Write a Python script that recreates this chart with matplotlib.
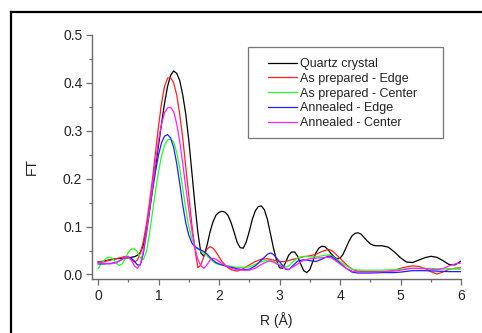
import matplotlib
matplotlib.use("Agg")
import matplotlib.pyplot as plt
from matplotlib.lines import Line2D
from matplotlib.patches import Rectangle

plt.rcParams['font.family'] = ['Liberation Sans', 'DejaVu Sans']

# (R, FT) pairs
quartz = [(0.0, .026), (0.1, .028), (0.2, .031), (0.3, .033), (0.4, .034), (0.5, .035),
          (0.6, .037), (0.65, .040), (0.7, .046), (0.75, .062), (0.8, .095), (0.85, .135),
          (0.9, .18), (0.95, .225), (1.0, .27), (1.05, .315), (1.1, .358), (1.15, .393),
          (1.2, .416), (1.25, .425), (1.3, .42), (1.35, .405), (1.4, .375), (1.45, .335),
          (1.5, .28), (1.55, .215), (1.6, .148), (1.65, .088), (1.7, .045), (1.75, .038),
          (1.8, .06), (1.85, .088), (1.9, .11), (1.95, .124), (2.0, .13), (2.05, .132),
          (2.1, .13), (2.15, .123), (2.2, .108), (2.25, .088), (2.3, .067), (2.35, .056),
          (2.4, .055), (2.45, .068), (2.5, .09), (2.55, .115), (2.6, .133), (2.65, .142),
          (2.7, .143), (2.75, .135), (2.8, .115), (2.85, .085), (2.9, .055), (2.95, .03),
          (3.0, .014), (3.05, .013), (3.1, .025), (3.15, .04), (3.2, .047), (3.25, .047),
          (3.3, .038), (3.35, .022), (3.4, .008), (3.45, .004), (3.5, .01), (3.55, .027),
          (3.6, .045), (3.65, .055), (3.7, .059), (3.75, .058), (3.8, .052), (3.85, .044),
          (3.9, .037), (3.95, .033), (4.0, .034), (4.05, .042), (4.1, .056), (4.15, .07),
          (4.2, .081), (4.25, .086), (4.3, .087), (4.35, .084), (4.4, .077), (4.45, .07),
          (4.5, .064), (4.55, .061), (4.6, .06), (4.7, .06), (4.8, .057), (4.9, .047),
          (5.0, .035), (5.1, .026), (5.2, .025), (5.3, .03), (5.4, .035), (5.5, .038),
          (5.6, .036), (5.7, .029), (5.8, .021), (5.9, .02), (6.0, .028)]

prep_edge = [(0.0, .026), (0.1, .027), (0.2, .030), (0.3, .033), (0.4, .036), (0.45, .038),
             (0.5, .037), (0.55, .031), (0.6, .026), (0.65, .030), (0.7, .045), (0.75, .07),
             (0.8, .105), (0.85, .15), (0.9, .2), (0.95, .255), (1.0, .31), (1.05, .358),
             (1.1, .393), (1.15, .41), (1.2, .411), (1.25, .4), (1.3, .375), (1.35, .335),
             (1.4, .285), (1.45, .225), (1.5, .165), (1.55, .105), (1.6, .055), (1.65, .014),
             (1.7, .02), (1.75, .038), (1.8, .053), (1.85, .058), (1.9, .055), (1.95, .047),
             (2.0, .037), (2.05, .027), (2.1, .02), (2.15, .014), (2.2, .01), (2.3, .007),
             (2.4, .012), (2.5, .02), (2.6, .027), (2.7, .032), (2.8, .033), (2.9, .03),
             (3.0, .027), (3.1, .027), (3.2, .031), (3.3, .034), (3.4, .037), (3.5, .039),
             (3.6, .042), (3.7, .048), (3.8, .052), (3.85, .051), (3.9, .046), (4.0, .034),
             (4.1, .021), (4.2, .011), (4.3, .007), (4.4, .006), (4.5, .006), (4.6, .006),
             (4.7, .006), (4.8, .007), (4.9, .009), (5.0, .013), (5.1, .016), (5.2, .018),
             (5.3, .017), (5.4, .013), (5.5, .006), (5.6, .001), (5.7, .005), (5.8, .011),
             (5.9, .013), (6.0, .014)]

prep_center = [(0.0, .012), (0.05, .022), (0.1, .03), (0.15, .035), (0.2, .036), (0.25, .032),
               (0.3, .024), (0.35, .019), (0.4, .022), (0.45, .033), (0.5, .046), (0.55, .053),
               (0.6, .054), (0.65, .047), (0.7, .035), (0.75, .031), (0.8, .048), (0.85, .085),
               (0.9, .13), (0.95, .175), (1.0, .215), (1.05, .248), (1.1, .27), (1.15, .281),
               (1.2, .283), (1.25, .276), (1.3, .255), (1.35, .222), (1.4, .18), (1.45, .137),
               (1.5, .1), (1.55, .075), (1.6, .06), (1.65, .053), (1.7, .049), (1.75, .045),
               (1.8, .039), (1.85, .033), (1.9, .027), (1.95, .023), (2.0, .021), (2.1, .019),
               (2.2, .017), (2.3, .015), (2.4, .015), (2.5, .016), (2.6, .021), (2.7, .027),
               (2.8, .03), (2.9, .027), (3.0, .021), (3.1, .016), (3.15, .017), (3.2, .024),
               (3.3, .035), (3.4, .038), (3.5, .037), (3.6, .037), (3.7, .039), (3.8, .041),
               (3.85, .04), (3.9, .036), (4.0, .027), (4.1, .018), (4.2, .011), (4.3, .009),
               (4.5, .009), (4.7, .009), (4.9, .01), (5.0, .011), (5.2, .013), (5.4, .013),
               (5.6, .012), (5.8, .012), (6.0, .011)]

ann_edge = [(0.0, .022), (0.1, .022), (0.2, .023), (0.3, .025), (0.35, .028), (0.4, .032),
            (0.45, .035), (0.5, .036), (0.55, .034), (0.6, .028), (0.65, .02), (0.7, .02),
            (0.75, .045), (0.8, .085), (0.85, .13), (0.9, .175), (0.95, .215), (1.0, .25),
            (1.05, .275), (1.1, .289), (1.15, .292), (1.2, .285), (1.25, .265), (1.3, .232),
            (1.35, .19), (1.4, .145), (1.45, .108), (1.5, .082), (1.55, .066), (1.6, .058),
            (1.65, .054), (1.7, .051), (1.75, .048), (1.8, .043), (1.85, .036), (1.9, .03),
            (1.95, .025), (2.0, .022), (2.1, .018), (2.2, .015), (2.3, .012), (2.4, .01),
            (2.5, .011), (2.6, .018), (2.7, .03), (2.8, .042), (2.85, .045), (2.9, .042),
            (3.0, .027), (3.1, .011), (3.15, .01), (3.2, .016), (3.3, .028), (3.4, .031),
            (3.5, .029), (3.6, .027), (3.7, .032), (3.8, .038), (3.85, .038), (3.9, .034),
            (4.0, .024), (4.1, .013), (4.2, .005), (4.3, .003), (4.5, .003), (4.7, .004),
            (4.9, .004), (5.0, .005), (5.2, .008), (5.4, .008), (5.6, .007), (5.8, .006),
            (6.0, .006)]

ann_center = [(0.0, .025), (0.1, .024), (0.2, .022), (0.3, .025), (0.4, .032), (0.45, .036),
              (0.5, .036), (0.55, .03), (0.6, .018), (0.65, .013), (0.7, .022), (0.75, .05),
              (0.8, .09), (0.85, .135), (0.9, .185), (0.95, .235), (1.0, .28), (1.05, .315),
              (1.1, .338), (1.15, .348), (1.2, .349), (1.25, .34), (1.3, .315), (1.35, .278),
              (1.4, .232), (1.45, .182), (1.5, .135), (1.55, .092), (1.6, .057), (1.65, .032),
              (1.7, .018), (1.75, .013), (1.8, .02), (1.85, .03), (1.9, .034), (1.95, .032),
              (2.0, .027), (2.1, .019), (2.2, .013), (2.3, .01), (2.4, .009), (2.5, .009),
              (2.6, .013), (2.7, .021), (2.8, .027), (2.85, .028), (2.9, .026), (3.0, .019),
              (3.1, .012), (3.15, .011), (3.2, .014), (3.3, .022), (3.4, .03), (3.5, .033),
              (3.6, .034), (3.7, .035), (3.8, .036), (3.85, .035), (3.9, .031), (4.0, .022),
              (4.1, .013), (4.2, .007), (4.3, .005), (4.5, .005), (4.7, .006), (4.9, .007),
              (5.0, .009), (5.2, .013), (5.4, .012), (5.6, .01), (5.7, .012), (5.8, .018),
              (5.9, .022), (6.0, .024)]

labels = ["Quartz crystal", "As prepared - Edge", "As prepared - Center",
          "Annealed - Edge", "Annealed - Center"]
series = [quartz, prep_edge, prep_center, ann_edge, ann_center]
colors = ["#000000", "#ff2020", "#20ff20", "#2020ff", "#ff20ff"]

x_ticks = [0, 1, 2, 3, 4, 5, 6]
y_ticks = [0.0, 0.1, 0.2, 0.3, 0.4, 0.5]
y_ticklabels = ["0.0", "0.1", "0.2", "0.3", "0.4", "0.5"]

W, H = 482, 333
fig = plt.figure(figsize=(W / 100, H / 100), dpi=100)

# outer frame (partial border)
fig.add_artist(Line2D([11 / W, 11 / W], [0, 1 - 12 / H], transform=fig.transFigure,
                      color="black", lw=1.6, solid_capstyle="projecting"))
fig.add_artist(Line2D([11 / W, 1], [1 - 12 / H, 1 - 12 / H], transform=fig.transFigure,
                      color="black", lw=1.6, solid_capstyle="projecting"))

ax = fig.add_axes([92 / W, 1 - 279 / H, (461 - 92) / W, (279 - 35) / H])
for s, lab, c in zip(series, labels, colors):
    r, ft = zip(*s)
    ax.plot(r, ft, color=c, lw=0.9, label=lab)

ax.set_xlim(-0.1, 6.0)
ax.set_ylim(-0.0094, 0.5)
ax.set_xticks(x_ticks)
ax.set_xticks([0.5, 1.5, 2.5, 3.5, 4.5, 5.5], minor=True)
ax.set_yticks(y_ticks)
ax.set_yticklabels(y_ticklabels)
ax.set_yticks([0.05, 0.15, 0.25, 0.35, 0.45], minor=True)

for side in ("top", "right"):
    ax.spines[side].set_visible(False)
for side in ("left", "bottom"):
    ax.spines[side].set_color("#6a6a6a")
    ax.spines[side].set_linewidth(1.0)

ax.tick_params(which="major", direction="out", length=4, width=0.9, color="#6a6a6a",
               labelsize=10, labelcolor="#222222", pad=3)
ax.tick_params(which="minor", direction="out", length=2.5, width=0.9, color="#6a6a6a")

ax.set_xlabel("R (Å)", fontsize=10, color="#222222")
ax.set_ylabel("FT", fontsize=10, color="#222222")
ax.xaxis.set_label_coords(0.5, -0.135)
ax.yaxis.set_label_coords(-0.143, 0.46)

# legend box drawn separately
ax_w, ax_h = 461 - 92, 279 - 35
bx0 = (248 - 92) / ax_w
by0 = (279 - 138) / ax_h
bw = (443 - 248) / ax_w
bh = (138 - 47) / ax_h
ax.add_patch(Rectangle((bx0, by0), bw, bh, transform=ax.transAxes, fill=False,
                       edgecolor="#777777", lw=0.9, zorder=5))
leg = ax.legend(loc="upper left", bbox_to_anchor=((268 - 92) / ax_w, (279 - 58) / ax_h),
                frameon=False, fontsize=9, borderpad=0, borderaxespad=0,
                labelspacing=0.22, handlelength=2.3, handletextpad=0.3)
for t in leg.get_texts():
    t.set_color("#222222")

fig.savefig("out.png", dpi=100)
